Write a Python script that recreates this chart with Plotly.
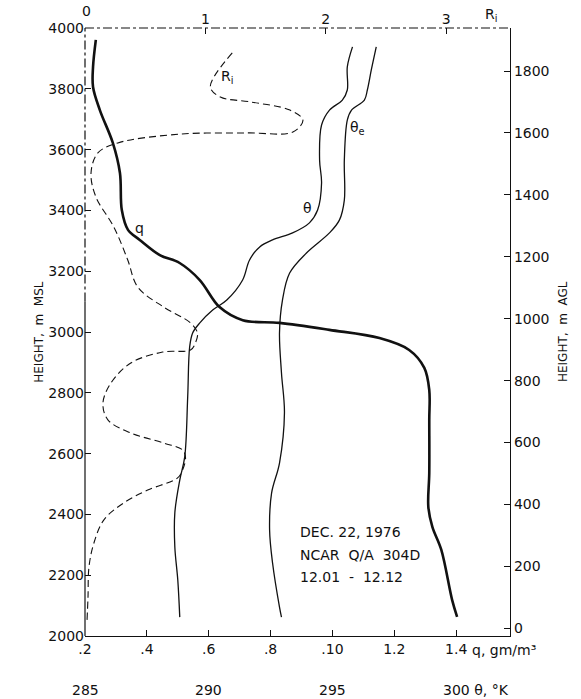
import plotly.graph_objects as go

# ---- data ----
q_height = [3961, 3872, 3806, 3730, 3622, 3523, 3401, 3336, 3303, 3253, 3227, 3171, 3082, 3039,
            3030, 3007, 2980, 2941, 2882, 2809, 2711, 2536, 2424, 2359, 2283, 2118, 2063]
q_vals = [0.235, 0.226, 0.226, 0.248, 0.290, 0.313, 0.319, 0.339, 0.377, 0.442, 0.506, 0.571, 0.635, 0.710,
          0.829, 0.990, 1.152, 1.248, 1.297, 1.313, 1.313, 1.313, 1.310, 1.323, 1.352, 1.387, 1.403]

theta_height = [3938, 3872, 3796, 3763, 3730, 3681, 3566, 3490, 3401, 3359, 3326, 3303, 3280, 3237,
                3171, 3105, 3072, 3030, 2997, 2951, 2786, 2589, 2513, 2405, 2293, 2184, 2062]
theta_vals = [295.81, 295.60, 295.60, 295.40, 294.88, 294.56, 294.48, 294.56, 294.40, 294.07, 293.39, 292.58,
              292.06, 291.65, 291.37, 290.73, 290.16, 289.64, 289.35, 289.23, 289.15, 289.03, 288.83, 288.63,
              288.63, 288.75, 288.83]

thetae_height = [3938, 3862, 3796, 3763, 3730, 3697, 3566, 3434, 3368, 3326, 3260, 3194, 3105, 2997,
                 2865, 2734, 2569, 2470, 2349, 2240, 2095, 2062]
thetae_vals = [296.77, 296.57, 296.41, 296.29, 295.77, 295.60, 295.48, 295.48, 295.28, 294.88, 293.95,
               293.27, 292.98, 292.86, 292.94, 293.06, 292.86, 292.54, 292.46, 292.58, 292.86, 292.94]

ri_height = [3918, 3806, 3773, 3757, 3730, 3697, 3658, 3655, 3651, 3622, 3589, 3523, 3444, 3345, 3237,
             3148, 3082, 3030, 2997, 2964, 2941, 2934, 2898, 2832, 2766, 2711, 2668, 2635, 2612, 2586,
             2546, 2520, 2480, 2438, 2382, 2306, 2227, 2128, 2053]
ri_vals = [1.223, 1.041, 1.124, 1.372, 1.702, 1.810, 1.727, 1.347, 0.793, 0.273, 0.107, 0.050, 0.091,
           0.240, 0.355, 0.438, 0.653, 0.876, 0.934, 0.917, 0.876, 0.645, 0.380, 0.215, 0.149, 0.190,
           0.380, 0.653, 0.810, 0.835, 0.810, 0.769, 0.521, 0.322, 0.157, 0.074, 0.033, 0.025, 0.017]

q_ticks = [0.2, 0.4, 0.6, 0.8, 1.0, 1.2, 1.4]
q_ticktext = [".2", ".4", ".6", ".8", ".10", "1.2", "1.4"]
theta_ticks = [285, 290, 295]
msl_ticks = [2000, 2200, 2400, 2600, 2800, 3000, 3200, 3400, 3600, 3800, 4000]
agl_ticks = [0, 200, 400, 600, 800, 1000, 1200, 1400, 1600, 1800]
ri_ticks = [1, 2, 3]
note_lines = ["DEC. 22, 1976", "NCAR  Q/A  304D", "12.01  -  12.12"]
note_heights = [2342, 2267, 2194]

FONT = "DejaVu Sans"
INK = "#111111"

fig = go.Figure()
fig.add_trace(go.Scatter(x=q_vals, y=q_height, mode="lines", line=dict(color=INK, width=2.6, shape="spline"),
                         xaxis="x", yaxis="y", showlegend=False))
fig.add_trace(go.Scatter(x=theta_vals, y=theta_height, mode="lines", line=dict(color=INK, width=1.3, shape="spline"),
                         xaxis="x3", yaxis="y", showlegend=False))
fig.add_trace(go.Scatter(x=thetae_vals, y=thetae_height, mode="lines", line=dict(color=INK, width=1.3, shape="spline"),
                         xaxis="x3", yaxis="y", showlegend=False))
fig.add_trace(go.Scatter(x=ri_vals, y=ri_height, mode="lines",
                         line=dict(color=INK, width=1.1, shape="spline", dash="7px,4px"),
                         xaxis="x2", yaxis="y", showlegend=False))
# invisible trace to activate the right axis
fig.add_trace(go.Scatter(x=[None], y=[None], xaxis="x", yaxis="y2", showlegend=False))

tickfont = dict(family=FONT, size=14, color=INK)

fig.update_layout(
    width=581, height=699,
    margin=dict(l=85, r=71, t=28, b=63),
    paper_bgcolor="white", plot_bgcolor="white",
    font=dict(family=FONT, color=INK),
    xaxis=dict(range=[0.2, 1.574], tickvals=q_ticks, ticktext=q_ticktext, ticks="inside", ticklen=6,
               tickcolor=INK, showline=True, linecolor=INK, linewidth=1.2, showgrid=False, zeroline=False,
               tickfont=tickfont, anchor="y"),
    xaxis2=dict(range=[0, 3.53], overlaying="x", side="top", anchor="y", tickvals=ri_ticks,
                ticktext=[str(v) for v in ri_ticks], ticks="inside", ticklen=6, tickcolor=INK,
                showline=False, showgrid=False, zeroline=False, tickfont=tickfont),
    xaxis3=dict(range=[285, 285 + 1.374 * 12.5], overlaying="x", anchor="y", showticklabels=False,
                ticks="", showline=False, showgrid=False, zeroline=False),
    yaxis=dict(range=[2000, 4000], tickvals=msl_ticks, ticks="inside", ticklen=6, tickcolor=INK,
               showline=False, showgrid=False, zeroline=False, tickfont=tickfont),
    yaxis2=dict(range=[-25, 1939], overlaying="y", side="right", anchor="x", tickvals=agl_ticks,
                ticks="inside", ticklen=6, tickcolor=INK, showline=True, linecolor=INK, linewidth=1.2,
                showgrid=False, zeroline=False, tickfont=tickfont),
)

# frame pieces: dash-dot top edge, left edge dash-dot above ~3100 m and solid below
fig.add_shape(type="line", xref="paper", yref="paper", x0=0, x1=1, y0=1, y1=1,
              line=dict(color=INK, width=1.1, dash="dashdot"))
fig.add_shape(type="line", xref="paper", yref="paper", x0=0, x1=0, y0=0.55, y1=1,
              line=dict(color=INK, width=1.2, dash="dashdot"))
fig.add_shape(type="line", xref="paper", yref="paper", x0=0, x1=0, y0=0, y1=0.55,
              line=dict(color=INK, width=1.2))

ann = []
# Ri zero label sits just above the top-left corner
ann.append(dict(x=0, y=1, xref="x2", yref="paper", text="0", showarrow=False,
                font=dict(family=FONT, size=14, color=INK), xanchor="center", yanchor="bottom",
                yshift=7, xshift=1))
for v in theta_ticks:
    ann.append(dict(x=v, y=-0.089, xref="x3", yref="paper", text=str(v), showarrow=False,
                    font=dict(family=FONT, size=14, color=INK), xanchor="center", yanchor="middle"))
ann.append(dict(x=300, y=-0.089, xref="x3", yref="paper", text="300 θ, °K", showarrow=False,
                font=dict(family=FONT, size=14, color=INK), xanchor="left", yanchor="middle", xshift=-15))
ann.append(dict(x=1.445, y=0, xref="x", yref="paper", text="q, gm/m³", showarrow=False,
                font=dict(family=FONT, size=14, color=INK), xanchor="left", yanchor="top", yshift=-4))
ann.append(dict(x=3.37, y=1, xref="x2", yref="paper", text="R<sub>i</sub>", showarrow=False,
                font=dict(family=FONT, size=14, color=INK), xanchor="center", yanchor="bottom", yshift=2))
ann.append(dict(x=-0.13, y=0.5, xref="paper", yref="paper", text="HEIGHT,  m  MSL", textangle=-90,
                showarrow=False, font=dict(family=FONT, size=12, color=INK)))
ann.append(dict(x=1.146, y=0.5, xref="paper", yref="paper", text="HEIGHT,  m  AGL", textangle=-90,
                showarrow=False, font=dict(family=FONT, size=12, color=INK)))
# curve labels
ann.append(dict(x=0.377, y=3342, xref="x", yref="y", text="q", showarrow=False,
                font=dict(family=FONT, size=14, color=INK)))
ann.append(dict(x=294.0, y=3408, xref="x3", yref="y", text="θ", showarrow=False,
                font=dict(family=FONT, size=14, color=INK)))
ann.append(dict(x=296.0, y=3671, xref="x3", yref="y", text="θ<sub>e</sub>", showarrow=False,
                font=dict(family=FONT, size=14, color=INK)))
ann.append(dict(x=1.18, y=3839, xref="x2", yref="y", text="R<sub>i</sub>", showarrow=False,
                font=dict(family=FONT, size=14, color=INK)))
for t, h in zip(note_lines, note_heights):
    ann.append(dict(x=0.887, y=h, xref="x", yref="y", text=t, showarrow=False, xanchor="left",
                    font=dict(family=FONT, size=14, color=INK)))
fig.update_layout(annotations=ann)

fig.write_html("out.html")
